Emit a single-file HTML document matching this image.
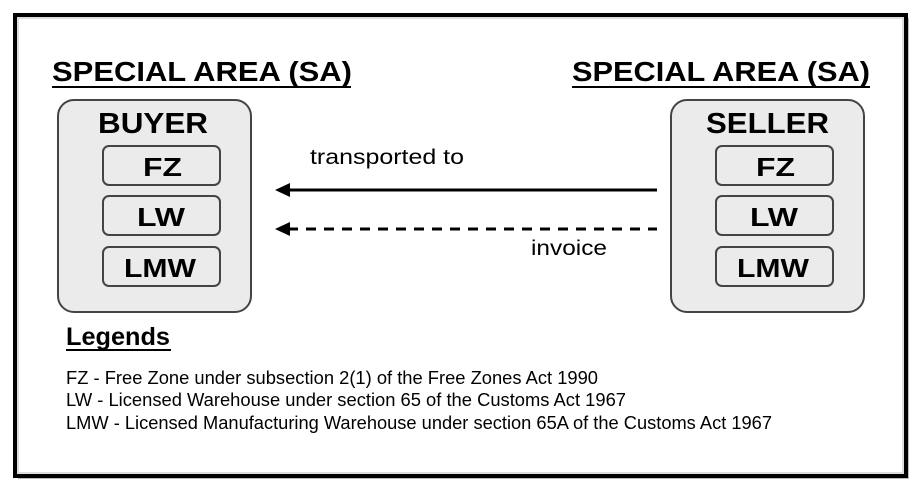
<!DOCTYPE html>
<html><head><meta charset="utf-8"><style>
html,body{margin:0;padding:0;background:#fff;width:922px;height:492px;overflow:hidden}
svg text{font-family:"Liberation Sans",Arial,sans-serif}
</style></head><body>
<svg width="922" height="492" viewBox="0 0 922 492" xmlns="http://www.w3.org/2000/svg">
<rect x="18" y="18" width="891" height="461" fill="#bbb"/>
<rect x="15" y="15" width="891" height="461" fill="#fff" stroke="#000" stroke-width="4"/>
<rect x="18" y="18" width="885" height="455" fill="none" stroke="#ddd" stroke-width="2"/>

<text x="52" y="81" font-size="28" font-weight="bold" textLength="300" lengthAdjust="spacingAndGlyphs">SPECIAL AREA (SA)</text>
<line x1="52" y1="87" x2="351" y2="87" stroke="#000" stroke-width="2"/>
<text x="572" y="81" font-size="28" font-weight="bold" textLength="298" lengthAdjust="spacingAndGlyphs">SPECIAL AREA (SA)</text>
<line x1="572" y1="87" x2="870" y2="87" stroke="#000" stroke-width="2"/>

<g stroke="#444" stroke-width="2">
<rect x="58" y="100" width="193" height="212" rx="16" fill="#ebebeb"/>
<rect x="103" y="146" width="117" height="39" rx="6" fill="#ebebeb"/>
<rect x="103" y="196" width="117" height="39" rx="6" fill="#ebebeb"/>
<rect x="103" y="247" width="117" height="39" rx="6" fill="#ebebeb"/>
<rect x="671" y="100" width="193" height="212" rx="16" fill="#ebebeb"/>
<rect x="716" y="146" width="117" height="39" rx="6" fill="#ebebeb"/>
<rect x="716" y="196" width="117" height="39" rx="6" fill="#ebebeb"/>
<rect x="716" y="247" width="117" height="39" rx="6" fill="#ebebeb"/>
</g>
<g font-weight="bold">
<text x="98" y="133" font-size="29" textLength="110" lengthAdjust="spacingAndGlyphs">BUYER</text>
<text x="143" y="176" font-size="26" textLength="39" lengthAdjust="spacingAndGlyphs">FZ</text>
<text x="137" y="226" font-size="26" textLength="48" lengthAdjust="spacingAndGlyphs">LW</text>
<text x="124" y="277" font-size="26" textLength="72" lengthAdjust="spacingAndGlyphs">LMW</text>
<text x="706" y="133" font-size="29" textLength="123" lengthAdjust="spacingAndGlyphs">SELLER</text>
<text x="756" y="176" font-size="26" textLength="39" lengthAdjust="spacingAndGlyphs">FZ</text>
<text x="750" y="226" font-size="26" textLength="48" lengthAdjust="spacingAndGlyphs">LW</text>
<text x="737" y="277" font-size="26" textLength="72" lengthAdjust="spacingAndGlyphs">LMW</text>
</g>

<text x="310" y="164" font-size="21" textLength="154" lengthAdjust="spacingAndGlyphs">transported to</text>
<line x1="288" y1="190" x2="657" y2="190" stroke="#000" stroke-width="3"/>
<polygon points="275,190 290,183 290,197" fill="#000"/>
<line x1="288" y1="229" x2="657" y2="229" stroke="#000" stroke-width="3" stroke-dasharray="10,8"/>
<polygon points="275,229 290,222 290,236" fill="#000"/>
<text x="531" y="255" font-size="21" textLength="76" lengthAdjust="spacingAndGlyphs">invoice</text>

<text x="66" y="345" font-size="25" font-weight="bold" textLength="104" lengthAdjust="spacingAndGlyphs">Legends</text>
<line x1="66" y1="350" x2="171" y2="350" stroke="#000" stroke-width="2"/>
<text x="66" y="384" font-size="18" textLength="532" lengthAdjust="spacingAndGlyphs">FZ - Free Zone under subsection 2(1) of the Free Zones Act 1990</text>
<text x="66" y="406" font-size="18" textLength="560" lengthAdjust="spacingAndGlyphs">LW - Licensed Warehouse under section 65 of the Customs Act 1967</text>
<text x="66" y="429" font-size="18" textLength="706" lengthAdjust="spacingAndGlyphs">LMW - Licensed Manufacturing Warehouse under section 65A of the Customs Act 1967</text>
</svg>
</body></html>
